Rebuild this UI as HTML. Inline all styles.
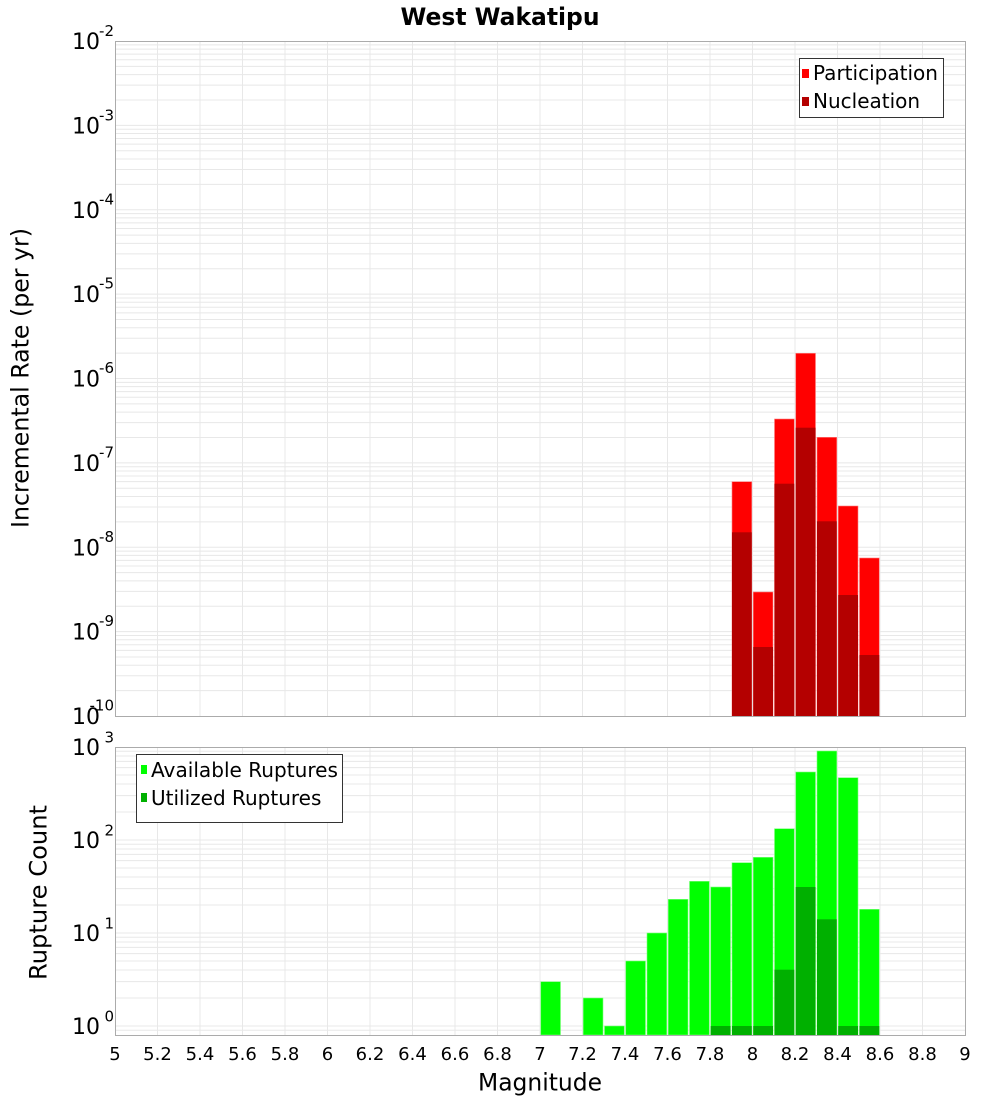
<!DOCTYPE html>
<html><head><meta charset="utf-8"><style>
html,body{margin:0;padding:0;background:#fff;}
svg{display:block;}
text{font-family:"DejaVu Sans","Liberation Sans",sans-serif;fill:#000;}
</style></head><body>
<svg width="1000" height="1100" viewBox="0 0 1000 1100" xmlns="http://www.w3.org/2000/svg">
<rect x="0" y="0" width="1000" height="1100" fill="#fff"/>
<!-- plot backgrounds -->
<rect x="115" y="41" width="850" height="675" fill="#fff"/>
<rect x="115" y="747" width="850" height="288" fill="#fff"/>
<!-- top grid -->
<g stroke="#e8e8e8" stroke-width="1" fill="none">
<path d="M115 690.6H965M115 675.74H965M115 665.2H965M115 657.02H965M115 650.34H965M115 644.69H965M115 639.8H965M115 635.49H965M115 631.63H965
M115 606.23H965M115 591.37H965M115 580.83H965M115 572.65H965M115 565.97H965M115 560.32H965M115 555.43H965M115 551.12H965M115 547.25H965
M115 521.85H965M115 506.99H965M115 496.45H965M115 488.27H965M115 481.59H965M115 475.94H965M115 471.05H965M115 466.74H965M115 462.88H965
M115 437.48H965M115 422.62H965M115 412.08H965M115 403.9H965M115 397.22H965M115 391.57H965M115 386.68H965M115 382.37H965M115 378.5H965
M115 353.1H965M115 338.24H965M115 327.7H965M115 319.52H965M115 312.84H965M115 307.19H965M115 302.3H965M115 297.99H965M115 294.13H965
M115 268.73H965M115 253.87H965M115 243.33H965M115 235.15H965M115 228.47H965M115 222.82H965M115 217.93H965M115 213.62H965M115 209.75H965
M115 184.35H965M115 169.49H965M115 158.95H965M115 150.77H965M115 144.09H965M115 138.44H965M115 133.55H965M115 129.24H965M115 125.38H965
M115 99.98H965M115 85.12H965M115 74.58H965M115 66.4H965M115 59.72H965M115 54.07H965M115 49.18H965M115 44.87H965"/>
<path d="M157.5 41V716M200 41V716M242.5 41V716M285 41V716M327.5 41V716M370 41V716M412.5 41V716M455 41V716M497.5 41V716M540 41V716M582.5 41V716M625 41V716M667.5 41V716M710 41V716M752.5 41V716M795 41V716M837.5 41V716M880 41V716M922.5 41V716"/>
</g>
<!-- bottom grid -->
<g stroke="#e8e8e8" stroke-width="1" fill="none">
<path d="M115 1030.26H965M115 1026H965M115 998H965M115 981.63H965M115 970.01H965M115 961H965M115 953.63H965M115 947.41H965M115 942.01H965M115 937.26H965M115 933H965
M115 905H965M115 888.63H965M115 877.01H965M115 868H965M115 860.63H965M115 854.41H965M115 849.01H965M115 844.26H965M115 840H965
M115 812H965M115 795.63H965M115 784.01H965M115 775H965M115 767.63H965M115 761.41H965M115 756.01H965M115 751.26H965"/>
<path d="M157.5 747V1035M200 747V1035M242.5 747V1035M285 747V1035M327.5 747V1035M370 747V1035M412.5 747V1035M455 747V1035M497.5 747V1035M540 747V1035M582.5 747V1035M625 747V1035M667.5 747V1035M710 747V1035M752.5 747V1035M795 747V1035M837.5 747V1035M880 747V1035M922.5 747V1035"/>
</g>
<!-- top bars: participation -->
<g fill="#ff0000" stroke="#ff8080" stroke-width="0.6">
<rect x="732" y="481.7" width="19.75" height="234.3"/>
<rect x="753.25" y="592" width="19.75" height="124"/>
<rect x="774.5" y="419" width="19.75" height="297"/>
<rect x="795.75" y="353.3" width="19.75" height="362.7"/>
<rect x="817" y="437.3" width="19.75" height="278.7"/>
<rect x="838.25" y="506" width="19.75" height="210"/>
<rect x="859.5" y="558" width="19.75" height="158"/>
</g>
<!-- nucleation -->
<g fill="#b40000">
<rect x="732" y="532.3" width="19.75" height="183.7"/>
<rect x="753.25" y="647" width="19.75" height="69"/>
<rect x="774.5" y="483.7" width="19.75" height="232.3"/>
<rect x="795.75" y="427.7" width="19.75" height="288.3"/>
<rect x="817" y="521.3" width="19.75" height="194.7"/>
<rect x="838.25" y="595" width="19.75" height="121"/>
<rect x="859.5" y="655" width="19.75" height="61"/>
</g>
<!-- bottom bars: available -->
<g fill="#00ff00" stroke="#80ff80" stroke-width="0.6">
<rect x="540.75" y="981.7" width="19.75" height="53.3"/>
<rect x="583.25" y="998" width="19.75" height="37"/>
<rect x="604.5" y="1026" width="19.75" height="9"/>
<rect x="625.75" y="961" width="19.75" height="74"/>
<rect x="647" y="933" width="19.75" height="102"/>
<rect x="668.25" y="899.3" width="19.75" height="135.7"/>
<rect x="689.5" y="881.3" width="19.75" height="153.7"/>
<rect x="710.75" y="887" width="19.75" height="148"/>
<rect x="732" y="862.7" width="19.75" height="172.3"/>
<rect x="753.25" y="857.3" width="19.75" height="177.7"/>
<rect x="774.5" y="828.7" width="19.75" height="206.3"/>
<rect x="795.75" y="772" width="19.75" height="263"/>
<rect x="817" y="751" width="19.75" height="284"/>
<rect x="838.25" y="777.7" width="19.75" height="257.3"/>
<rect x="859.5" y="909.3" width="19.75" height="125.7"/>
</g>
<!-- utilized -->
<g fill="#00b000">
<rect x="710.75" y="1026" width="19.75" height="9"/>
<rect x="732" y="1026" width="19.75" height="9"/>
<rect x="753.25" y="1026" width="19.75" height="9"/>
<rect x="774.5" y="969.7" width="19.75" height="65.3"/>
<rect x="795.75" y="887" width="19.75" height="148"/>
<rect x="817" y="919.3" width="19.75" height="115.7"/>
<rect x="838.25" y="1026" width="19.75" height="9"/>
<rect x="859.5" y="1026" width="19.75" height="9"/>
</g>
<!-- borders -->
<rect x="115.5" y="41.5" width="850" height="675" fill="none" stroke="#ababab" stroke-width="1"/>
<rect x="115.5" y="747.5" width="850" height="288" fill="none" stroke="#ababab" stroke-width="1"/>
<!-- legends -->
<rect x="799.5" y="58.5" width="144" height="59" fill="#fff" stroke="#333" stroke-width="1"/>
<rect x="802" y="69" width="7" height="9" fill="#ff0000"/>
<rect x="802" y="97" width="7" height="9" fill="#b40000"/>
<text x="813" y="80" font-size="20" textLength="125" lengthAdjust="spacingAndGlyphs">Participation</text>
<text x="813" y="108" font-size="20">Nucleation</text>
<rect x="136.5" y="754.5" width="206" height="68" fill="#fff" stroke="#333" stroke-width="1"/>
<rect x="141" y="765" width="6" height="9" fill="#00ff00"/>
<rect x="141" y="793" width="6" height="9" fill="#00b000"/>
<text x="151" y="777" font-size="20" textLength="187" lengthAdjust="spacingAndGlyphs">Available Ruptures</text>
<text x="151" y="805" font-size="20">Utilized Ruptures</text>
<!-- title -->
<text x="500" y="25" text-anchor="middle" font-size="24" font-weight="bold" textLength="199" lengthAdjust="spacingAndGlyphs">West Wakatipu</text>
<!-- axis titles -->
<text transform="translate(28.5,378) rotate(-90)" text-anchor="middle" font-size="24" textLength="300" lengthAdjust="spacingAndGlyphs">Incremental Rate (per yr)</text>
<text transform="translate(46.5,892.5) rotate(-90)" text-anchor="middle" font-size="24" textLength="175" lengthAdjust="spacingAndGlyphs">Rupture Count</text>
<text x="540" y="1090.5" text-anchor="middle" font-size="24" textLength="124" lengthAdjust="spacingAndGlyphs">Magnitude</text>
<!-- top y ticks -->
<g font-size="22" text-anchor="end">
<text x="100" y="49">10</text>
<text x="100" y="133.4">10</text>
<text x="100" y="217.8">10</text>
<text x="100" y="302.1">10</text>
<text x="100" y="386.5">10</text>
<text x="100" y="470.9">10</text>
<text x="100" y="555.3">10</text>
<text x="100" y="639.6">10</text>
<text x="100" y="724">10</text>
<text x="100" y="755">10</text>
<text x="100" y="848">10</text>
<text x="100" y="941">10</text>
<text x="100" y="1034">10</text>
</g>
<g font-size="15" text-anchor="end">
<text x="114" y="36">-2</text>
<text x="114" y="120.4">-3</text>
<text x="114" y="204.3">-4</text>
<text x="114" y="288.6">-5</text>
<text x="114" y="373">-6</text>
<text x="114" y="457.4">-7</text>
<text x="114" y="541.8">-8</text>
<text x="114" y="626.1">-9</text>
<text x="114" y="710.5">-10</text>
<text x="114" y="742.5">3</text>
<text x="114" y="835.5">2</text>
<text x="114" y="928.5">1</text>
<text x="114" y="1021.5">0</text>
</g>
<!-- x ticks -->
<g font-size="18" text-anchor="middle">
<text x="115" y="1060">5</text>
<text x="157.5" y="1060">5.2</text>
<text x="200" y="1060">5.4</text>
<text x="242.5" y="1060">5.6</text>
<text x="285" y="1060">5.8</text>
<text x="327.5" y="1060">6</text>
<text x="370" y="1060">6.2</text>
<text x="412.5" y="1060">6.4</text>
<text x="455" y="1060">6.6</text>
<text x="497.5" y="1060">6.8</text>
<text x="540" y="1060">7</text>
<text x="582.5" y="1060">7.2</text>
<text x="625" y="1060">7.4</text>
<text x="667.5" y="1060">7.6</text>
<text x="710" y="1060">7.8</text>
<text x="752.5" y="1060">8</text>
<text x="795" y="1060">8.2</text>
<text x="837.5" y="1060">8.4</text>
<text x="880" y="1060">8.6</text>
<text x="922.5" y="1060">8.8</text>
<text x="965" y="1060">9</text>
</g>
</svg>
</body></html>
